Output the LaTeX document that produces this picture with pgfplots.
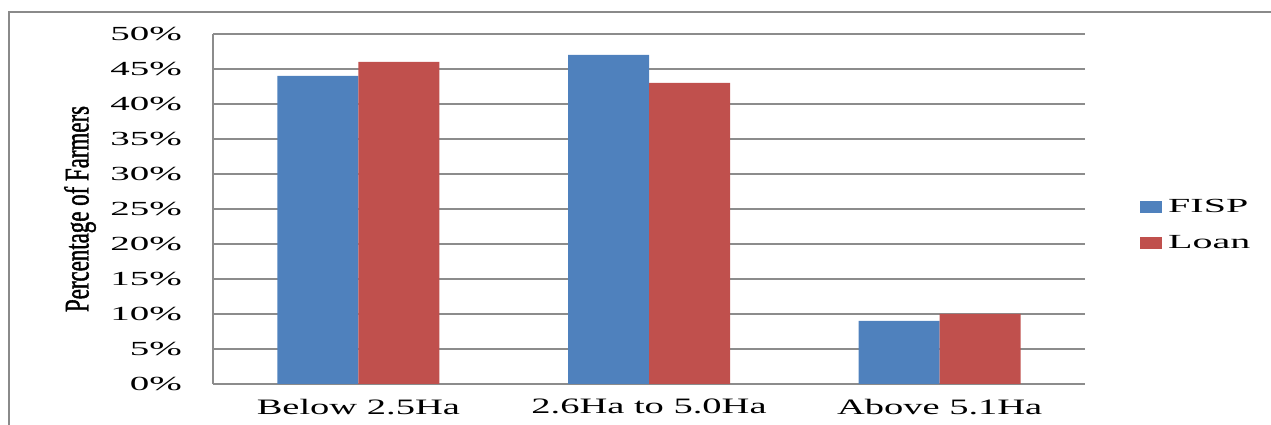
\documentclass[border=0pt]{standalone}
\usepackage{pgfplots}
\pgfplotsset{compat=1.18}
\usepackage{fontspec}
\setmainfont{Liberation Serif}
\newfontfamily\tickfont[FakeStretch=1.95]{Liberation Serif}
\newfontfamily\xlabfont[FakeStretch=1.75]{Liberation Serif}
\newfontfamily\legfont[FakeStretch=2.0]{Liberation Serif}
\newfontfamily\ylabfont[FakeStretch=0.66,FakeBold=1.2]{Liberation Serif}
\definecolor{fispblue}{HTML}{4F81BD}
\definecolor{loanred}{HTML}{C0504D}
\definecolor{gridgray}{HTML}{8C8C8C}
\definecolor{framegray}{HTML}{8A8A8A}
\begin{document}
\begin{tikzpicture}
\path[use as bounding box] (0,0) rectangle (1271pt,425pt);
% outer chart frame
\draw[framegray, line width=2pt] (9pt,-5pt) -- (9pt,413pt) -- (1280pt,413pt);
\begin{axis}[
  at={(213pt,41pt)}, anchor=south west,
  scale only axis, width=872pt, height=350pt,
  ybar=0pt, bar width=81pt,
  xmin=-0.5, xmax=2.5, ymin=0, ymax=50,
  xtick=data,
  xticklabels={Below 2.5Ha, 2.6Ha to 5.0Ha, Above 5.1Ha},
  ytick={0,5,...,50},
  yticklabels={0\%,5\%,10\%,15\%,20\%,25\%,30\%,35\%,40\%,45\%,50\%},
  major tick length=0pt,
  axis x line*=bottom, axis y line*=left,
  axis line style={gridgray, line width=1.3pt, -},
  ymajorgrids, grid style={gridgray, line width=1.3pt},
  yticklabel style={font=\fontsize{20}{24}\tickfont, anchor=east, inner sep=0pt, xshift=-31pt},
  xticklabel style={font=\fontsize{22}{26}\xlabfont, anchor=north, inner sep=0pt, yshift=-15pt},
  ylabel={Percentage of Farmers},
  every axis y label/.style={at={(axis description cs:-0.1525,0.5)}, rotate=90, anchor=center, inner sep=0pt, font=\fontsize{34.7}{40}\ylabfont},
  legend style={draw=none, fill=none, at={(axis description cs:1.0631,0.455)}, anchor=west,
    inner sep=0pt, row sep=21pt, column sep=6pt, font=\fontsize{20}{24}\legfont,
    nodes={inner sep=0pt}, cells={anchor=west}},
  legend image code/.code={\fill[#1] (0pt,-6pt) rectangle (22pt,6pt);},
]
\addplot[fill=fispblue, draw=none] coordinates {(0,44) (1,47) (2,9)};
\addplot[fill=loanred, draw=none] coordinates {(0,46) (1,43) (2,10)};
\legend{FISP, Loan}
\end{axis}
\end{tikzpicture}
\end{document}
